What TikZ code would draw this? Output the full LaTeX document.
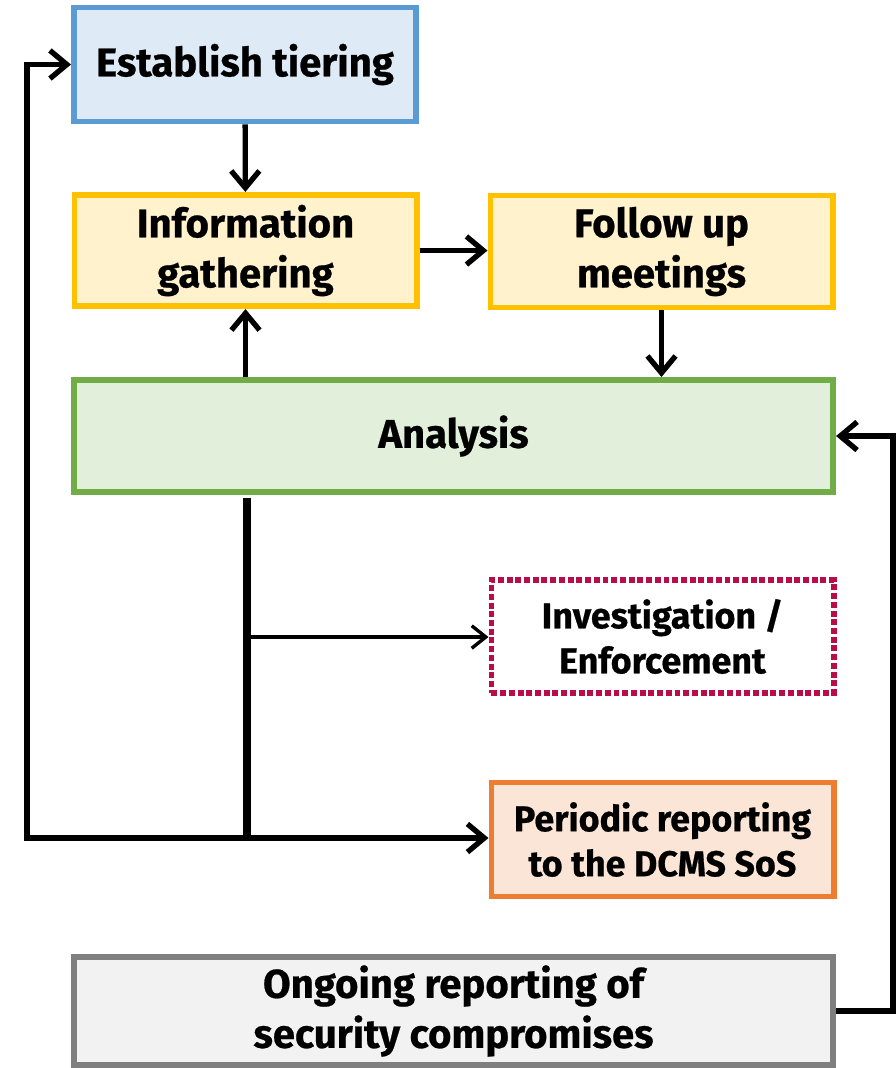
\documentclass[tikz,border=0pt]{standalone}
\usepackage{fontspec}
\setmainfont{Fira Sans}[BoldFeatures={FakeBold=0.6}]
\usepackage{tikz}
\usetikzlibrary{arrows.meta}

\definecolor{tierline}{HTML}{5B9BD5}
\definecolor{tierfill}{HTML}{DEEBF7}
\definecolor{gathline}{HTML}{FFC000}
\definecolor{gathfill}{HTML}{FFF2CC}
\definecolor{analine}{HTML}{70AD47}
\definecolor{anafill}{HTML}{E2EFDA}
\definecolor{invline}{HTML}{B80D48}
\definecolor{repline}{HTML}{ED7D31}
\definecolor{repfill}{HTML}{FBE5D6}
\definecolor{ongline}{HTML}{7F7F7F}
\definecolor{ongfill}{HTML}{F2F2F2}

\begin{document}
\begin{tikzpicture}[x=0.025cm, y=-0.025cm,
    box/.style={draw, line width=4.2pt, align=center, inner sep=0pt,
        minimum width=8.55cm, minimum height=2.85cm,
        font=\fontsize{28.5}{35.6}\selectfont\bfseries},
    wide/.style={box, minimum width=18.975cm},
    smalltext/.style={font=\fontsize{25.5}{32}\selectfont\bfseries},
    arr/.style={line width=3.8pt, -{Straight Barb[length=12pt, width=20pt]}},
    thinarr/.style={line width=2.4pt, -{Straight Barb[length=10pt, width=16pt]}},
    trunk/.style={line width=5.4pt}]
            \useasboundingbox (0,0) rectangle (896,1068);
            \node[box, draw=tierline, fill=tierfill] (tier) at (245,64.5) {Establish tiering};
            \node[box, draw=gathline, fill=gathfill, minimum height=2.78cm] (gather) at (245.5,250.5) {Information\\gathering};
            \node[box, draw=gathline, fill=gathfill, minimum height=2.8cm] (follow) at (661.5,251.5) {Follow up\\meetings};
            \node[wide, draw=analine, fill=anafill, minimum height=2.8cm] (analysis) at (453.5,436) {Analysis};
            \node[box, smalltext, draw=invline, fill=white, dotted, minimum height=2.82cm] (invest) at (662.5,636.5) {Investigation /\\Enforcement};
            \node[box, smalltext, draw=repline, fill=repfill] (periodic) at (662.5,839.5) {Periodic reporting\\to the DCMS SoS};
            \node[wide, draw=ongline, fill=ongfill, minimum height=2.7cm] (ongoing) at (453.5,1011) {Ongoing reporting of\\security compromises};

            \coordinate (hub) at (247,838);
            \coordinate (branch) at (247,637);
            \coordinate (loop) at (27,838);
            \coordinate (back) at (893,1011);

            \draw[arr] (tier) -- (gather);
            \draw[arr] (gather.east) -- (gather.east -| follow.west);
            \draw[arr] (follow) -- (follow |- analysis.north);
            \draw[arr] (analysis.north -| gather) -- (gather.south);
            \draw[trunk] ([yshift=-2pt]analysis.south -| hub) -- (hub);
            \draw[thinarr] (branch) -- (branch -| invest.west);
            \draw[arr] (hub) -- (hub -| periodic.west);
            \draw[arr] (hub) -- (loop) |- (tier.west);
            \draw[arr] (ongoing.east) -- (back) |- (analysis.east);
        \end{tikzpicture}
\end{document}
